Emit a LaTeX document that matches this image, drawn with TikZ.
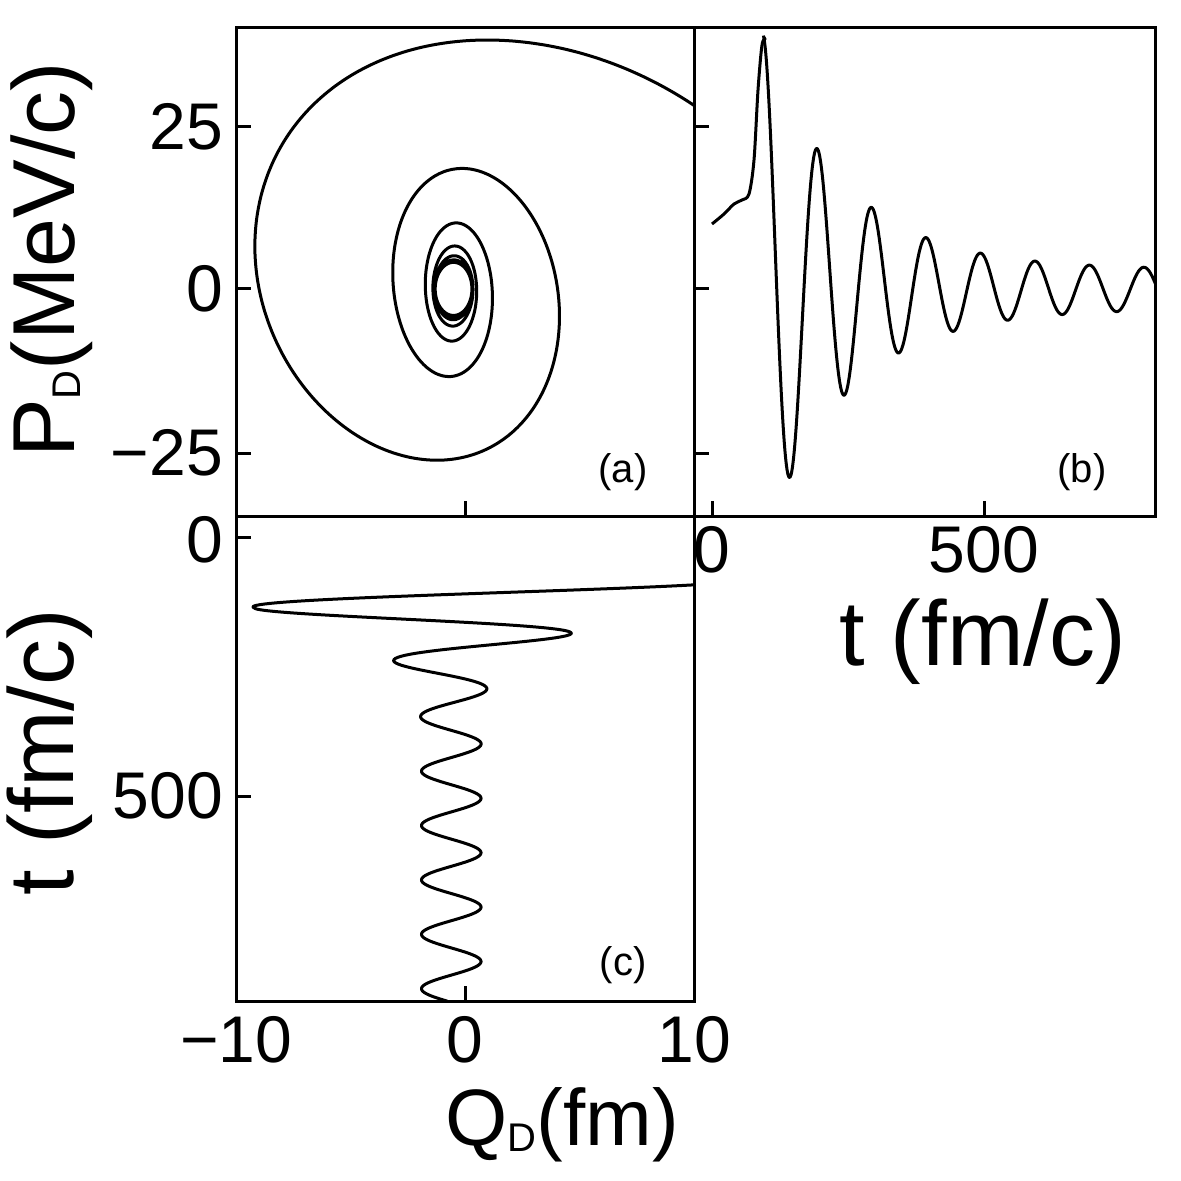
\documentclass[tikz,border=0pt]{standalone}
\usepackage{fontspec}
\setmainfont{Liberation Sans}
\newcommand{\subD}{{\fontsize{20}{20}\selectfont\raisebox{-3pt}{D}}}
\begin{document}
\begin{tikzpicture}[x=0.5pt,y=-0.5pt,
  frame/.style={line width=1.5pt},
  curve/.style={line width=1.5pt,line join=round},
  tick/.style={line width=1.5pt},
  num/.style={font=\fontsize{33}{33}\selectfont},
  lab/.style={font=\fontsize{40}{40}\selectfont},
  pl/.style={font=\fontsize{20}{20}\selectfont}]
\useasboundingbox (0,0) rectangle (1181,1181);
% frames
\draw[frame] (236,28) rectangle (694,516);
\draw[frame] (694,28) rectangle (1155,516);
\draw[frame] (236,516) rectangle (694,1001);
% ticks (a)
\foreach \y in {127,289,453}{\draw[tick] (236,\y) -- (251,\y); \draw[tick] (694,\y) -- (709,\y);}
\draw[tick] (465,516) -- (465,501);
% ticks (b)
\foreach \x in {712,984}{\draw[tick] (\x,516) -- (\x,501);}
% ticks (c)
\foreach \y in {537,796}{\draw[tick] (236,\y) -- (251,\y);}
\draw[tick] (465,1001) -- (465,986);
% tick labels
\node[num,anchor=east] (p25) at (230,127) {25};
\node[num,anchor=east] (p0) at (230,289) {0};
\node[num,anchor=east] (pm25) at (230,453) {−25};
\node[num,anchor=east] (t0c) at (230,540) {0};
\node[num,anchor=east] (t500c) at (230,796) {500};
\node[num] (qm10) at (236,1040) {−10};
\node[num] (q0) at (465,1040) {0};
\node[num] (q10) at (694,1040) {10};
\node[num] (t0b) at (712,550) {0};
\node[num] (t500b) at (984,550) {500};
% axis labels
\node[lab,rotate=90,font=\fontsize{44}{44}\selectfont] (ylab) at (52,260) {P\subD(MeV/c)};
\node[lab,rotate=90,font=\fontsize{46}{46}\selectfont] (tlab) at (50,752) {t (fm/c)};
\node[lab,font=\fontsize{46}{46}\selectfont] (tblab) at (983,642) {t (fm/c)};
\node[lab] (xlab) at (562,1125) {Q\subD(fm)};
% panel labels
\node[pl] (la) at (623,472) {(a)};
\node[pl] (lb) at (1082,472) {(b)};
\node[pl] (lc) at (623,965) {(c)};
% (a) spiral
\begin{scope}
\clip (236,28) rectangle (694,516);
\draw[curve] plot[domain=30:2900,samples=900,smooth]
  ({465+22.9*(-0.5+(0.8+15.8*exp(-min(\x/250,9)))*cos(\x))},
   {289-6.52*((4+42*exp(-min(\x/420,9)))*sin(\x))});
\end{scope}
% (b)
\begin{scope}
\clip (694,28) rectangle (1155,516);
\draw[curve] plot[smooth] coordinates {(712,224)(724,214)(734,204)(742,200)(749,194)(754,160)(758,90)(762,45)(766,38)};
\draw[curve] plot[domain=94.5:815,samples=400,smooth]
  ({712+0.544*\x},{289-6.52*((3+36*exp(-min((\x-94)/150,9)))*cos(3.6*(\x-94)))});
\end{scope}
% (c)
\begin{scope}
\clip (236,516) rectangle (694,1001);
\draw[curve] plot[domain=80:137.5,samples=60,smooth]
  ({465+22.9*(-0.6-(1.3+7.3*exp((137-\x)/120))*cos(3.4286*(\x-137)))},{537+0.518*\x});
\draw[curve] plot[domain=137.5:896,samples=400,smooth]
  ({465+22.9*(-0.6-(1.3+7.3*exp(-min(((\x-137)/70)*sqrt((\x-137)/70),9)))*cos(3.4286*(\x-137)))},{537+0.518*\x});
\end{scope}
\end{tikzpicture}
\end{document}
